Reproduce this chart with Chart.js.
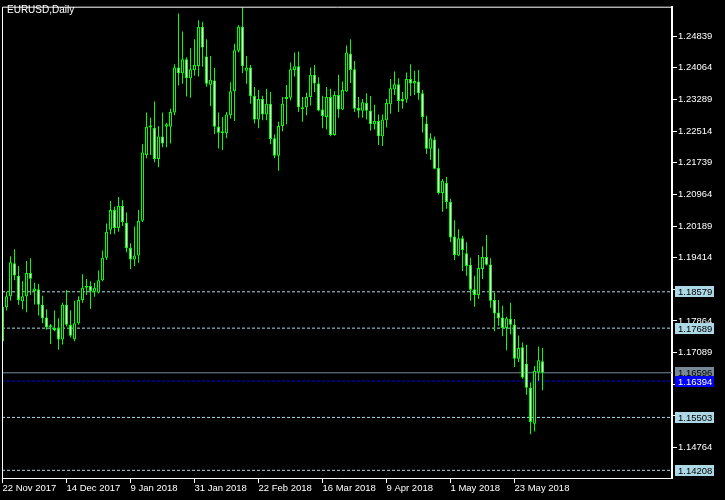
<!DOCTYPE html>
<html><head><meta charset="utf-8">
<script src="https://cdn.jsdelivr.net/npm/chart.js@4.4.1/dist/chart.umd.min.js"></script>
<style>html,body{margin:0;padding:0;background:#000;} canvas{display:block}</style>
</head><body>
<canvas id="c" width="725" height="500"></canvas>
<script>
// ---- data (EURUSD daily candles, bar index 0 = 22 Nov 2017) ----
const opens = [1.1737,1.1820,1.1847,1.1928,1.1897,1.1835,1.1847,1.1904,1.1860,1.1864,
1.1826,1.1795,1.1771,1.1769,1.1769,1.1741,1.1826,1.1777,1.1742,1.1781,
1.1838,1.1868,1.1872,1.1858,1.1856,1.1886,1.1941,1.2010,1.2058,1.2014,
1.2068,1.2027,1.1965,1.1937,1.1947,1.2032,1.2193,1.2262,1.2259,1.2183,
1.2238,1.2262,1.2262,1.2297,1.2407,1.2393,1.2427,1.2381,1.2401,1.2411,
1.2507,1.2434,1.2365,1.2375,1.2262,1.2246,1.2246,1.2290,1.2349,1.2448,
1.2507,1.2399,1.2407,1.2337,1.2280,1.2330,1.2292,1.2318,1.2234,1.2191,
1.2264,1.2330,1.2333,1.2401,1.2410,1.2310,1.2310,1.2335,1.2389,1.2368,
1.2304,1.2286,1.2335,1.2242,1.2340,1.2304,1.2348,1.2441,1.2403,1.2308,
1.2301,1.2320,1.2301,1.2268,1.2276,1.2239,1.2278,1.2317,1.2353,1.2366,
1.2330,1.2329,1.2379,1.2368,1.2373,1.2344,1.2270,1.2208,1.2231,1.2161,
1.2100,1.2124,1.2078,1.1993,1.1947,1.1989,1.1952,1.1924,1.1864,1.1850,
1.1914,1.1943,1.1925,1.1838,1.1807,1.1795,1.1769,1.1792,1.1777,1.1694,
1.1722,1.1682,1.1623,1.1535,1.1661,1.1688];
const highs = [1.1826,1.1858,1.1945,1.1962,1.1921,1.1884,1.1933,1.1940,1.1880,1.1877,
1.1848,1.1815,1.1779,1.1812,1.1793,1.1831,1.1862,1.1813,1.1836,1.1847,
1.1901,1.1889,1.1884,1.1880,1.1910,1.1959,1.2025,1.2080,1.2066,1.2090,
1.2082,1.2052,1.1977,1.2018,1.2058,1.2219,1.2297,1.2284,1.2324,1.2264,
1.2297,1.2272,1.2306,1.2415,1.2539,1.2495,1.2432,1.2454,1.2476,1.2523,
1.2519,1.2476,1.2435,1.2406,1.2297,1.2286,1.2298,1.2371,1.2465,1.2511,
1.2554,1.2435,1.2413,1.2359,1.2352,1.2338,1.2355,1.2347,1.2243,1.2274,
1.2335,1.2364,1.2419,1.2444,1.2446,1.2335,1.2345,1.2407,1.2413,1.2383,
1.2338,1.2359,1.2355,1.2349,1.2389,1.2373,1.2461,1.2476,1.2423,1.2335,
1.2330,1.2344,1.2337,1.2316,1.2292,1.2292,1.2330,1.2379,1.2397,1.2381,
1.2347,1.2395,1.2415,1.2399,1.2401,1.2352,1.2289,1.2246,1.2238,1.2209,
1.2134,1.2139,1.2086,1.2033,1.2011,1.1995,1.1979,1.1941,1.1897,1.1948,
1.1969,1.1997,1.1940,1.1856,1.1838,1.1824,1.1797,1.1831,1.1791,1.1751,
1.1734,1.1728,1.1636,1.1676,1.1724,1.1720];
const lows = [1.1734,1.1812,1.1836,1.1886,1.1826,1.1815,1.1808,1.1850,1.1827,1.1800,
1.1781,1.1765,1.1730,1.1761,1.1716,1.1729,1.1773,1.1746,1.1737,1.1777,
1.1831,1.1850,1.1816,1.1846,1.1854,1.1884,1.1936,1.1999,1.1999,1.2005,
1.2019,1.1955,1.1914,1.1921,1.1929,1.2029,1.2185,1.2193,1.2175,1.2163,
1.2212,1.2212,1.2221,1.2290,1.2363,1.2367,1.2336,1.2333,1.2387,1.2385,
1.2409,1.2360,1.2312,1.2244,1.2209,1.2205,1.2234,1.2282,1.2276,1.2444,
1.2393,1.2367,1.2318,1.2270,1.2258,1.2278,1.2278,1.2219,1.2185,1.2154,
1.2251,1.2268,1.2326,1.2385,1.2298,1.2274,1.2290,1.2314,1.2347,1.2300,
1.2258,1.2255,1.2239,1.2240,1.2284,1.2303,1.2347,1.2369,1.2298,1.2284,
1.2284,1.2280,1.2252,1.2255,1.2217,1.2215,1.2260,1.2294,1.2340,1.2298,
1.2306,1.2321,1.2337,1.2340,1.2328,1.2248,1.2195,1.2181,1.2158,1.2096,
1.2054,1.2061,1.1979,1.1936,1.1945,1.1909,1.1897,1.1836,1.1821,1.1840,
1.1889,1.1922,1.1819,1.1761,1.1775,1.1749,1.1715,1.1754,1.1674,1.1686,
1.1645,1.1606,1.1509,1.1516,1.1640,1.1617];
const closes = [1.1821,1.1847,1.1930,1.1898,1.1838,1.1847,1.1904,1.1890,1.1866,1.1826,
1.1793,1.1771,1.1775,1.1764,1.1741,1.1826,1.1777,1.1750,1.1781,1.1838,
1.1868,1.1872,1.1860,1.1868,1.1886,1.1941,1.2005,1.2058,1.2014,1.2068,
1.2029,1.1965,1.1937,1.1947,1.2032,1.2199,1.2262,1.2260,1.2183,1.2238,
1.2221,1.2268,1.2298,1.2407,1.2393,1.2427,1.2381,1.2403,1.2413,1.2507,
1.2456,1.2367,1.2377,1.2262,1.2247,1.2250,1.2292,1.2349,1.2449,1.2507,
1.2410,1.2407,1.2337,1.2280,1.2330,1.2292,1.2318,1.2232,1.2191,1.2264,
1.2318,1.2335,1.2403,1.2410,1.2310,1.2305,1.2335,1.2389,1.2368,1.2302,
1.2288,1.2335,1.2242,1.2340,1.2304,1.2352,1.2444,1.2401,1.2306,1.2301,
1.2322,1.2301,1.2268,1.2276,1.2239,1.2280,1.2320,1.2356,1.2366,1.2325,
1.2324,1.2379,1.2368,1.2374,1.2344,1.2286,1.2208,1.2234,1.2159,1.2100,
1.2130,1.2078,1.1991,1.1948,1.1989,1.1960,1.1921,1.1863,1.1850,1.1916,
1.1943,1.1924,1.1836,1.1805,1.1793,1.1769,1.1793,1.1777,1.1694,1.1720,
1.1648,1.1623,1.1539,1.1664,1.1690,1.16596];

const dateTickIndex = [0,16,32,48,64,80,96,112,128];
const dateTickLabels = ['22 Nov 2017','14 Dec 2017','9 Jan 2018','31 Jan 2018','22 Feb 2018','16 Mar 2018','9 Apr 2018','1 May 2018','23 May 2018'];
const priceTicks = [1.14764,1.15539,1.16314,1.17089,1.17864,1.18639,1.19414,1.20189,1.20964,1.21739,1.22514,1.23289,1.24064,1.24839];
const levelPrices = [1.18579,1.17689,1.15503,1.14208];
const bidPrice = 1.16596;
const orderPrice = 1.16394;
const symbolTitle = 'EURUSD,Daily';

// ---- styling ----
const FONT = "'Liberation Sans', Arial, sans-serif";
const LIME = '#00ff00';
const LEVEL_COLOR = '#add8e6';
const BID_COLOR = '#778899';
const ORDER_COLOR = '#0000ff';
const X_MIN = -0.125, X_MAX = 167.375;
const Y_MIN = 1.14020, Y_MAX = 1.25559;

const bodyData = opens.map((o, i) => ({x: i, y: [o, closes[i]]}));
const wickData = lows.map((l, i) => ({x: i, y: [l, highs[i]]}));

function levelDataset(v, color, dash) {
  return {type: 'line', data: [{x: X_MIN, y: v}, {x: X_MAX, y: v}], borderColor: color,
    borderWidth: 1, borderDash: dash, pointRadius: 0, fill: false, order: 3};
}

const datasets = [
  {type: 'bar', data: bodyData, grouped: false, order: 1,
    backgroundColor: c => (closes[c.dataIndex] >= opens[c.dataIndex] ? '#000000' : '#ffffff'),
    borderColor: LIME, borderWidth: 1, borderSkipped: false, inflateAmount: 0,
    barThickness: 3, maxBarThickness: 3, minBarLength: 2},
  {type: 'bar', data: wickData, grouped: false, order: 2,
    backgroundColor: LIME, borderWidth: 0, inflateAmount: 0,
    barThickness: 1, maxBarThickness: 1},
  ...levelPrices.map(v => levelDataset(v, LEVEL_COLOR, [3, 2])),
  levelDataset(bidPrice, BID_COLOR, []),
  levelDataset(orderPrice, ORDER_COLOR, [3, 2])
];

const decorPlugin = {
  id: 'decor',
  beforeDraw(chart) {
    const ctx = chart.ctx;
    ctx.save();
    ctx.fillStyle = '#000';
    ctx.fillRect(0, 0, chart.width, chart.height);
    ctx.restore();
  },
  afterDraw(chart) {
    const ctx = chart.ctx, a = chart.chartArea, ys = chart.scales.y;
    ctx.save();
    ctx.strokeStyle = '#fff'; ctx.lineWidth = 1;
    ctx.beginPath();
    ctx.moveTo(a.left + 0.5, a.bottom); ctx.lineTo(a.left + 0.5, a.top + 0.5);
    ctx.lineTo(a.right + 0.5, a.top + 0.5); ctx.lineTo(a.right + 0.5, a.top + 5);
    ctx.stroke();
    ctx.font = '10px ' + FONT;
    ctx.fillStyle = '#fff';
    ctx.textBaseline = 'alphabetic';
    ctx.textAlign = 'left';
    ctx.fillText(symbolTitle, 7, 13);
    ctx.font = '9.5px ' + FONT;
    const box = (v, bg, fg) => {
      const yc = ys.getPixelForValue(v);
      const top = Math.round(yc - 5.5);
      ctx.fillStyle = bg;
      ctx.fillRect(a.right + 3, top, 39, 11);
      ctx.fillStyle = fg;
      ctx.fillText(v.toFixed(5), a.right + 6, top + 9);
    };
    levelPrices.forEach(v => box(v, LEVEL_COLOR, '#000'));
    box(bidPrice, BID_COLOR, '#000');
    box(orderPrice, ORDER_COLOR, '#fff');
    ctx.restore();
  }
};

new Chart(document.getElementById('c'), {
  type: 'bar',
  data: {datasets},
  options: {
    responsive: false, animation: false, events: [],
    layout: {padding: {left: 2, top: 2, right: 0, bottom: 0}},
    plugins: {legend: {display: false}, tooltip: {enabled: false}, title: {display: false}},
    scales: {
      x: {type: 'linear', min: X_MIN, max: X_MAX, offset: false, position: 'bottom',
        afterFit: s => { s.height = 22; },
        afterBuildTicks: s => { s.ticks = dateTickIndex.map(v => ({value: v})); },
        grid: {display: true, drawOnChartArea: false, drawTicks: true, tickLength: 5, tickColor: '#fff', offset: false},
        border: {display: true, color: '#fff', width: 1},
        ticks: {autoSkip: false, maxRotation: 0, minRotation: 0, align: 'start', padding: 0, color: '#fff',
          font: {family: FONT, size: 9.5},
          callback: v => { const k = dateTickIndex.indexOf(v); return k >= 0 ? dateTickLabels[k] : ''; }}
      },
      y: {type: 'linear', min: Y_MIN, max: Y_MAX, position: 'right',
        afterFit: s => { s.width = 53; },
        afterBuildTicks: s => { s.ticks = priceTicks.map(v => ({value: v})); },
        grid: {display: true, drawOnChartArea: false, drawTicks: true, tickLength: 5, tickColor: '#fff'},
        border: {display: true, color: '#fff', width: 2},
        ticks: {autoSkip: false, padding: 1, color: '#fff', font: {family: FONT, size: 9.5},
          callback: v => Number(v).toFixed(5)}
      }
    }
  },
  plugins: [decorPlugin]
});
</script>
</body></html>
